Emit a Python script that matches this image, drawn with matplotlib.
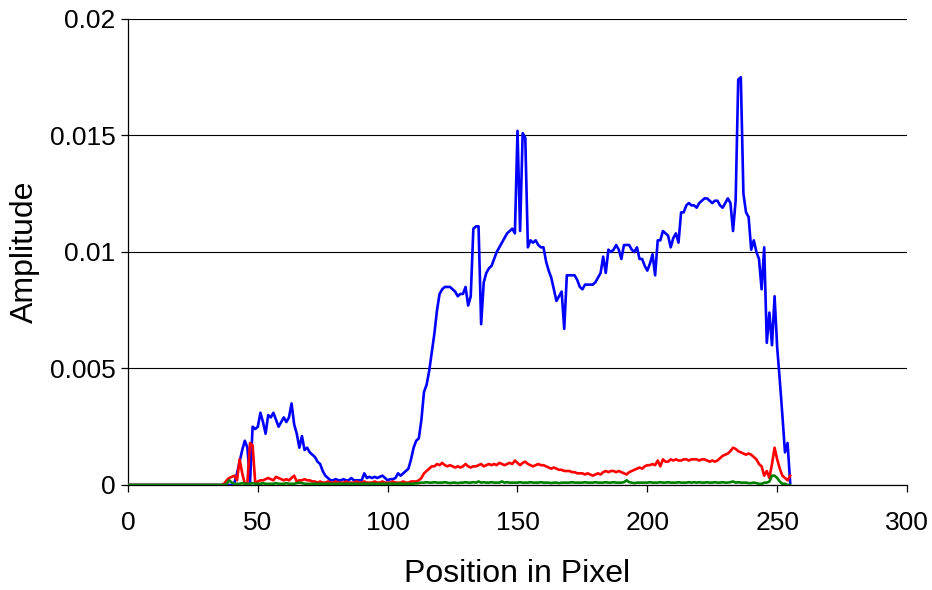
import numpy as np
import matplotlib
matplotlib.use("Agg")
import matplotlib.pyplot as plt

plt.rcParams['font.family'] = ['Liberation Sans', 'DejaVu Sans']

# Amplitude values, in units of 1e-3, one value per pixel position 0..255
blue_milli = [
    0, 0, 0, 0, 0, 0, 0, 0, 0, 0,
    0, 0, 0, 0, 0, 0, 0, 0, 0, 0,
    0, 0, 0, 0, 0, 0, 0, 0, 0, 0,
    0, 0, 0, 0, 0, 0, 0, 0, 0, 0,
    0.0, 0.1, 0.5, 1.0, 1.5, 1.9, 1.6, 0.1, 2.5, 2.4,
    2.5, 3.1, 2.7, 2.2, 3.0, 2.9, 3.1, 2.8, 2.5, 2.7,
    2.9, 2.7, 2.9, 3.5, 2.6, 2.2, 1.6, 2.1, 1.5, 1.6,
    1.4, 1.3, 1.2, 1.0, 0.9, 0.6, 0.4, 0.3, 0.2, 0.2,
    0.25, 0.2, 0.2, 0.25, 0.2, 0.2, 0.3, 0.2, 0.2, 0.2,
    0.2, 0.5, 0.3, 0.35, 0.3, 0.35, 0.3, 0.35, 0.4, 0.3,
    0.2, 0.25, 0.25, 0.3, 0.5, 0.4, 0.5, 0.6, 0.7, 1.1,
    1.6, 1.9, 2.0, 2.8, 4.0, 4.3, 4.9, 5.7, 6.5, 7.5,
    8.2, 8.4, 8.5, 8.5, 8.5, 8.4, 8.3, 8.1, 8.2, 8.2,
    8.5, 7.7, 8.1, 11.0, 11.1, 11.1, 6.9, 8.7, 9.1, 9.3,
    9.4, 9.7, 10.0, 10.2, 10.4, 10.6, 10.8, 10.9, 11.0, 10.8,
    15.2, 10.9, 15.1, 14.9, 10.2, 10.5, 10.4, 10.5, 10.3, 10.2,
    10.2, 9.6, 9.2, 8.9, 8.4, 7.9, 8.1, 8.3, 6.7, 9.0,
    9.0, 9.0, 9.0, 8.8, 8.5, 8.4, 8.6, 8.6, 8.6, 8.6,
    8.7, 8.9, 9.1, 9.8, 9.1, 10.1, 10.0, 10.1, 10.3, 10.1,
    9.7, 10.3, 10.3, 10.3, 10.1, 10.0, 10.2, 9.7, 9.7, 9.4,
    9.2, 9.5, 9.9, 9.0, 10.5, 10.5, 10.9, 10.8, 10.7, 10.2,
    10.6, 10.8, 10.4, 11.7, 11.7, 12.0, 12.1, 12.0, 12.0, 11.9,
    12.1, 12.2, 12.3, 12.3, 12.2, 12.1, 12.2, 12.2, 12.0, 11.9,
    12.1, 12.3, 12.1, 10.9, 12.2, 17.4, 17.5, 12.5, 11.7, 11.5,
    10.1, 10.5, 10.0, 9.7, 8.4, 10.2, 6.1, 7.4, 6.0, 8.1,
    5.9, 4.5, 3.0, 1.4, 1.8, 0.1,
]

red_milli = [
    0, 0, 0, 0, 0, 0, 0, 0, 0, 0,
    0, 0, 0, 0, 0, 0, 0, 0, 0, 0,
    0, 0, 0, 0, 0, 0, 0, 0, 0, 0,
    0, 0, 0, 0, 0, 0, 0, 0.05, 0.2, 0.3,
    0.35, 0.4, 0.2, 1.1, 0.5, 0.05, 0.1, 1.8, 1.7, 0.1,
    0.15, 0.2, 0.2, 0.25, 0.3, 0.25, 0.2, 0.35, 0.3, 0.25,
    0.2, 0.25, 0.2, 0.3, 0.4, 0.15, 0.2, 0.2, 0.25, 0.2,
    0.2, 0.15, 0.15, 0.1, 0.15, 0.1, 0.1, 0.15, 0.1, 0.1,
    0.15, 0.1, 0.1, 0.1, 0.15, 0.1, 0.1, 0.1, 0.15, 0.1,
    0.1, 0.15, 0.1, 0.1, 0.1, 0.15, 0.1, 0.1, 0.15, 0.1,
    0.1, 0.1, 0.15, 0.1, 0.1, 0.1, 0.15, 0.1, 0.1, 0.15,
    0.15, 0.15, 0.2, 0.3, 0.5, 0.6, 0.7, 0.8, 0.8, 0.9,
    0.85, 0.95, 0.85, 0.8, 0.85, 0.8, 0.75, 0.8, 0.75, 0.8,
    0.9, 0.8, 0.75, 0.8, 0.8, 0.85, 0.9, 0.8, 0.85, 0.9,
    0.85, 0.9, 0.85, 0.95, 0.9, 0.85, 0.9, 0.95, 0.9, 1.05,
    0.95, 0.85, 0.95, 1.0, 0.9, 0.85, 0.8, 0.85, 0.9, 0.85,
    0.85, 0.8, 0.75, 0.7, 0.75, 0.7, 0.65, 0.65, 0.6, 0.6,
    0.6, 0.55, 0.55, 0.5, 0.5, 0.5, 0.45, 0.5, 0.45, 0.4,
    0.45, 0.5, 0.45, 0.55, 0.6, 0.55, 0.6, 0.6, 0.55, 0.6,
    0.55, 0.5, 0.45, 0.55, 0.6, 0.65, 0.7, 0.75, 0.7, 0.8,
    0.85, 0.85, 0.9, 0.85, 1.05, 0.8, 1.1, 1.0, 1.0, 1.1,
    1.05, 1.1, 1.05, 1.05, 1.1, 1.1, 1.05, 1.1, 1.1, 1.1,
    1.05, 1.1, 1.1, 1.05, 1.0, 1.05, 1.0, 1.05, 1.15, 1.25,
    1.3, 1.35, 1.45, 1.6, 1.55, 1.45, 1.4, 1.35, 1.3, 1.35,
    1.3, 1.2, 1.1, 0.9, 0.8, 0.4, 0.6, 0.3, 0.9, 1.6,
    1.1, 0.7, 0.4, 0.3, 0.2, 0.4,
]

green_milli = [
    0, 0, 0, 0, 0, 0, 0, 0, 0, 0,
    0, 0, 0, 0, 0, 0, 0, 0, 0, 0,
    0, 0, 0, 0, 0, 0, 0, 0, 0, 0,
    0, 0, 0, 0, 0, 0, 0, 0, 0.05, 0.2,
    0.1, 0.05, 0.05, 0.05, 0.08, 0.05, 0.05, 0.05, 0.08, 0.05,
    0.05, 0.05, 0.08, 0.05, 0.05, 0.05, 0.05, 0.08, 0.05, 0.05,
    0.05, 0.08, 0.05, 0.05, 0.05, 0.08, 0.1, 0.08, 0.05, 0.05,
    0.05, 0.05, 0.05, 0.05, 0.05, 0.05, 0.05, 0.05, 0.05, 0.05,
    0.05, 0.05, 0.06, 0.05, 0.05, 0.05, 0.06, 0.05, 0.05, 0.05,
    0.05, 0.06, 0.05, 0.05, 0.06, 0.05, 0.05, 0.05, 0.06, 0.05,
    0.05, 0.06, 0.05, 0.05, 0.05, 0.06, 0.05, 0.05, 0.06, 0.05,
    0.06, 0.07, 0.08, 0.1, 0.1, 0.12, 0.1, 0.1, 0.12, 0.1,
    0.1, 0.1, 0.12, 0.1, 0.08, 0.1, 0.1, 0.08, 0.1, 0.1,
    0.12, 0.1, 0.1, 0.12, 0.1, 0.15, 0.1, 0.12, 0.1, 0.1,
    0.12, 0.1, 0.1, 0.1, 0.15, 0.1, 0.12, 0.1, 0.1, 0.1,
    0.1, 0.12, 0.1, 0.1, 0.1, 0.12, 0.1, 0.1, 0.1, 0.12,
    0.1, 0.1, 0.1, 0.08, 0.1, 0.1, 0.08, 0.1, 0.1, 0.1,
    0.1, 0.12, 0.1, 0.1, 0.1, 0.1, 0.12, 0.1, 0.1, 0.1,
    0.12, 0.1, 0.1, 0.1, 0.12, 0.1, 0.1, 0.12, 0.1, 0.1,
    0.1, 0.12, 0.2, 0.12, 0.1, 0.08, 0.1, 0.1, 0.1, 0.1,
    0.1, 0.12, 0.1, 0.1, 0.1, 0.12, 0.1, 0.1, 0.12, 0.1,
    0.1, 0.1, 0.12, 0.1, 0.1, 0.1, 0.12, 0.1, 0.12, 0.1,
    0.12, 0.1, 0.1, 0.12, 0.1, 0.1, 0.12, 0.1, 0.1, 0.12,
    0.1, 0.1, 0.12, 0.15, 0.1, 0.12, 0.1, 0.1, 0.1, 0.08,
    0.08, 0.1, 0.08, 0.05, 0.05, 0.1, 0.1, 0.15, 0.4, 0.4,
    0.3, 0.15, 0.05, 0.05, 0.0, 0.0,
]

x_ticks = [0, 50, 100, 150, 200, 250, 300]
y_ticks = [0, 0.005, 0.01, 0.015, 0.02]
y_tick_labels = ["0", "0.005", "0.01", "0.015", "0.02"]

blue = np.array(blue_milli) * 1e-3
red = np.array(red_milli) * 1e-3
green = np.array(green_milli) * 1e-3

fig = plt.figure(figsize=(9.32, 5.90), dpi=100)
ax = fig.add_axes([0.1373, 0.178, 0.8359, 0.7898])

ax.plot(np.arange(len(blue)), blue, color='#0000FF', lw=1.9, zorder=3)
ax.plot(np.arange(len(red)), red, color='#FF0000', lw=1.9, zorder=4)
ax.plot(np.arange(len(green)), green, color='#008000', lw=1.9, zorder=5)

ax.set_xlim(0, 300)
ax.set_ylim(0, 0.02)
ax.set_xticks(x_ticks)
ax.set_yticks(y_ticks)
ax.set_yticklabels(y_tick_labels)
ax.yaxis.grid(True, color='black', lw=0.8)
ax.set_axisbelow(True)

for s in ['top', 'right']:
    ax.spines[s].set_visible(False)
for s in ['left', 'bottom']:
    ax.spines[s].set_color('black')
    ax.spines[s].set_linewidth(0.9)

ax.tick_params(axis='both', direction='out', length=5, width=0.9,
               labelsize=19, colors='black')
ax.tick_params(axis='x', pad=14)
ax.tick_params(axis='y', pad=4)

ax.set_xlabel('Position in Pixel', fontsize=23, labelpad=17)
ax.set_ylabel('Amplitude', fontsize=23, labelpad=7)

fig.savefig('out.png', dpi=100)
